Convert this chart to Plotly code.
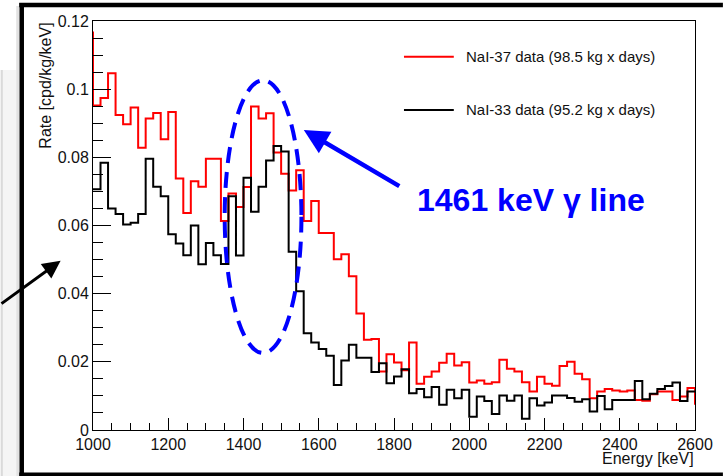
import numpy as np
import plotly.graph_objects as go

# ---------------------------------------------------------------- data
bin_width = 20
e_min, e_max = 1000, 2600
edges = np.arange(e_min, e_max + bin_width, bin_width)

# NaI-37 rate per 20 keV bin [cpd/kg/keV]
nai37_rate = [
    0.0952, 0.0974, 0.1047, 0.0924, 0.0897, 0.0946, 0.0828, 0.0914, 0.0930, 0.0853,
    0.0933, 0.0738, 0.0637, 0.0730, 0.0714, 0.0796, 0.0796, 0.0613, 0.0694, 0.0654,
    0.0713, 0.0949, 0.0914, 0.0929, 0.0814, 0.0752, 0.0703, 0.0762, 0.0613, 0.0672,
    0.0578, 0.0578, 0.0501, 0.0516, 0.0451, 0.0342, 0.0265, 0.0267, 0.0172, 0.0222,
    0.0198, 0.0175, 0.0257, 0.0136, 0.0156, 0.0172, 0.0197, 0.0224, 0.0189, 0.0199,
    0.0139, 0.0145, 0.0136, 0.0140, 0.0206, 0.0180, 0.0172, 0.0140, 0.0113, 0.0156,
    0.0136, 0.0130, 0.0188, 0.0200, 0.0165, 0.0149, 0.0093, 0.0113, 0.0120, 0.0116,
    0.0113, 0.0116, 0.0088, 0.0086, 0.0105, 0.0113, 0.0113, 0.0088, 0.0098, 0.0123,
]
nai37_below = 0.1166   # bin just below the displayed range
nai37_above = 0.0074   # bin just above the displayed range

# NaI-33 rate per 20 keV bin [cpd/kg/keV]
nai33_rate = [
    0.0706, 0.0784, 0.0650, 0.0634, 0.0603, 0.0608, 0.0634, 0.0796, 0.0714, 0.0686,
    0.0574, 0.0547, 0.0513, 0.0600, 0.0486, 0.0549, 0.0513, 0.0487, 0.0686, 0.0512,
    0.0740, 0.0640, 0.0714, 0.0791, 0.0833, 0.0817, 0.0523, 0.0407, 0.0284, 0.0257,
    0.0238, 0.0218, 0.0132, 0.0204, 0.0250, 0.0212, 0.0212, 0.0170, 0.0196, 0.0137,
    0.0157, 0.0178, 0.0108, 0.0120, 0.0096, 0.0126, 0.0074, 0.0118, 0.0093, 0.0118,
    0.0039, 0.0098, 0.0085, 0.0047, 0.0101, 0.0086, 0.0101, 0.0033, 0.0093, 0.0072,
    0.0081, 0.0101, 0.0101, 0.0094, 0.0083, 0.0090, 0.0054, 0.0100, 0.0061, 0.0088,
    0.0088, 0.0088, 0.0144, 0.0090, 0.0106, 0.0120, 0.0129, 0.0139, 0.0085, 0.0113,
]

series_names = ["NaI-37 data (98.5 kg x days)", "NaI-33 data (95.2 kg x days)"]
x_tick_vals = [1000, 1200, 1400, 1600, 1800, 2000, 2200, 2400, 2600]
x_tick_text = ["1000", "1200", "1400", "1600", "1800", "2000", "2200", "2400", "2600"]
y_tick_vals = [0, 0.02, 0.04, 0.06, 0.08, 0.10, 0.12]
y_tick_text = ["0", "0.02", "0.04", "0.06", "0.08", "0.1", "0.12"]

# gamma line highlighted by the ellipse (keV, rate)
peak_window_e = (1350, 1554)
peak_window_rate = (0.0226, 0.1026)

# ---------------------------------------------------------------- layout
W, H = 725, 476
ML, MR, MT, MB = 93, 28, 21, 46
PW, PH = W - ML - MR, H - MT - MB
FONT = "Liberation Sans, Arial, Helvetica, sans-serif"


def px(x):
    return (x - ML) / PW


def py(y):
    return (H - MB - y) / PH


fig = go.Figure()

# step histograms (bin contents drawn from the left edge of each bin)
fig.add_trace(go.Scatter(
    x=np.concatenate([[e_min - bin_width], edges]),
    y=[nai37_below] + nai37_rate + [nai37_above],
    mode="lines", line=dict(color="#ff0000", width=2, shape="hv"),
    name=series_names[0], showlegend=False,
))
fig.add_trace(go.Scatter(
    x=edges,
    y=nai33_rate + [nai33_rate[-1]],
    mode="lines", line=dict(color="#000000", width=2, shape="hv"),
    name=series_names[1], showlegend=False,
))

shapes = []
annotations = []

# legend
for yy, col, name in [(56.7, "#ff0000", series_names[0]), (110, "#000000", series_names[1])]:
    shapes.append(dict(type="line", xref="paper", yref="paper",
                       x0=px(405), x1=px(455), y0=py(yy), y1=py(yy),
                       line=dict(color=col, width=2)))
    annotations.append(dict(xref="paper", yref="paper", x=px(465), y=py(yy),
                            text=name, showarrow=False, xanchor="left", yanchor="middle",
                            font=dict(family=FONT, size=15, color="#111")))

# ellipse around the peak
shapes.append(dict(type="circle", xref="x", yref="y",
                   x0=peak_window_e[0], x1=peak_window_e[1],
                   y0=peak_window_rate[0], y1=peak_window_rate[1],
                   line=dict(color="#0000ff", width=4, dash="16px,9px")))

# outer frame
shapes += [
    dict(type="rect", xref="paper", yref="paper", x0=px(0), x1=px(16), y0=py(70), y1=py(476),
         line=dict(width=0), fillcolor="#f5f5f5", layer="below"),
    dict(type="line", xref="paper", yref="paper", x0=px(1.5), x1=px(1.5), y0=py(70), y1=py(476),
         line=dict(color="#dadada", width=2)),
    dict(type="rect", xref="paper", yref="paper", x0=px(16), x1=px(19), y0=py(6), y1=py(476),
         line=dict(width=0), fillcolor="#e2e2e2", layer="below"),
    dict(type="line", xref="paper", yref="paper", x0=px(19), x1=px(725), y0=py(5), y1=py(5),
         line=dict(color="#000", width=4.5)),
    dict(type="line", xref="paper", yref="paper", x0=px(21.5), x1=px(21.5), y0=py(3), y1=py(476),
         line=dict(color="#000", width=4.5)),
    dict(type="line", xref="paper", yref="paper", x0=px(19), x1=px(725), y0=py(474.5), y1=py(474.5),
         line=dict(color="#000", width=4)),
]

# axis titles
annotations.append(dict(xref="paper", yref="paper", x=px(45), y=py(20.5),
                        text="Rate [cpd/kg/keV]", showarrow=False, textangle=-90,
                        xanchor="center", yanchor="top",
                        font=dict(family=FONT, size=16, color="#111")))
annotations.append(dict(xref="paper", yref="paper", x=px(698), y=py(458),
                        text="Energy [keV]", showarrow=False,
                        xanchor="right", yanchor="middle",
                        font=dict(family=FONT, size=16, color="#111")))

# gamma line label and arrows
annotations.append(dict(xref="paper", yref="paper", x=px(416), y=py(200),
                        text="<b>1461 keV γ line</b>", showarrow=False,
                        xanchor="left", yanchor="middle",
                        font=dict(family=FONT, size=32, color="#0000ff")))
annotations.append(dict(xref="paper", yref="paper", x=px(304.5), y=py(130), text="",
                        showarrow=True, arrowhead=2, arrowsize=1.1, arrowwidth=4.5,
                        arrowcolor="#0000ff", ax=97, ay=57, standoff=0))
annotations.append(dict(xref="paper", yref="paper", x=px(60.5), y=py(260.7), text="",
                        showarrow=True, arrowhead=2, arrowsize=1.2, arrowwidth=3,
                        arrowcolor="#000", ax=-61, ay=44, standoff=0))

axis_common = dict(showgrid=False, zeroline=False, showline=True, linecolor="#000",
                   linewidth=1, mirror=True, ticks="inside", tickcolor="#000",
                   tickwidth=1, tickfont=dict(family=FONT, size=16, color="#111"))

fig.update_layout(
    width=W, height=H,
    margin=dict(l=ML, r=MR, t=MT, b=MB),
    paper_bgcolor="white", plot_bgcolor="white",
    shapes=shapes, annotations=annotations,
    xaxis=dict(range=[e_min, e_max], tickvals=x_tick_vals, ticktext=x_tick_text,
               ticklen=12, minor=dict(ticks="inside", ticklen=7, dtick=50,
                                      tickcolor="#000", tickwidth=1),
               **axis_common),
    yaxis=dict(range=[0, 0.12], tickvals=y_tick_vals, ticktext=y_tick_text,
               ticklen=18, minor=dict(ticks="inside", ticklen=10, dtick=0.005,
                                      tickcolor="#000", tickwidth=1),
               **axis_common),
)

fig.write_html("out.html")
